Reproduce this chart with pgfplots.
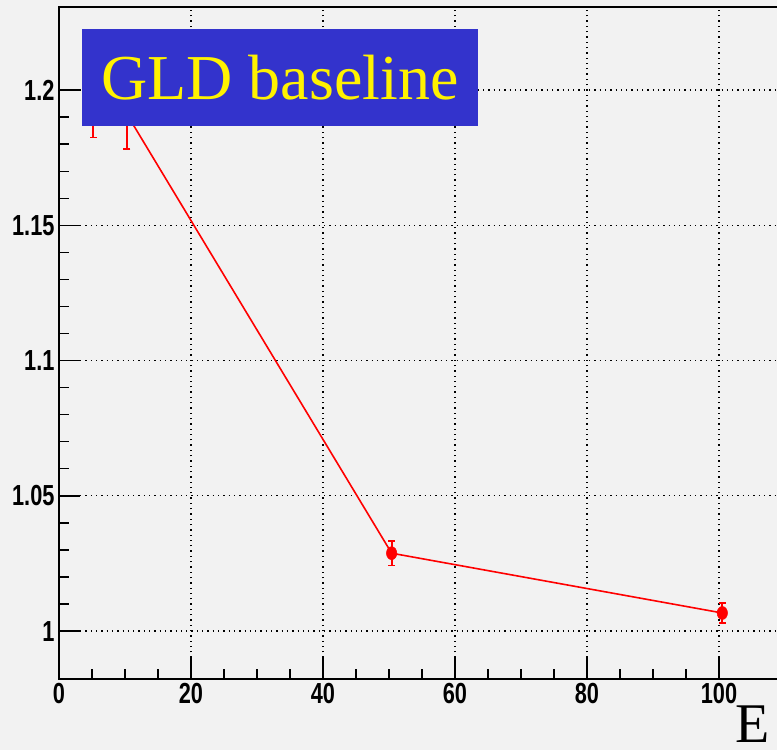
\documentclass[border=0pt]{standalone}
\usepackage{pgfplots}
\pgfplotsset{compat=1.18}
\usepackage{fontspec}
\setmainfont{Liberation Serif}
\newfontfamily\tickfont[FakeStretch=0.75]{Liberation Sans}
\definecolor{rootbg}{RGB}{242,242,242}
\definecolor{boxblue}{RGB}{51,51,204}
\definecolor{rootred}{RGB}{255,0,0}
\begin{document}
\begin{tikzpicture}
\path[use as bounding box, clip] (0,0) rectangle (777pt,750pt);
\fill[rootbg] (0,0) rectangle (777pt,750pt);
\begin{axis}[
    at={(59pt,71pt)}, anchor=south west,
    scale only axis,
    width=726pt, height=672pt,
    xmin=0, xmax=110,
    ymin=0.9823, ymax=1.2307,
    xtick={0,20,40,60,80,100},
    ytick={1,1.05,1.1,1.15,1.2},
    yticklabels={1,1.05,1.1,1.15,1.2},
    minor x tick num=3,
    minor y tick num=4,
    xtick pos=left, ytick pos=left,
    tick align=inside,
    major tick length=21pt,
    minor tick length=10pt,
    tick style={black, line width=1.4pt},
    axis line style={black, line width=2pt},
    grid=major,
    major grid style={black, line width=1.3pt, dash pattern=on 1.3pt off 4pt},
    axis background/.style={fill=rootbg},
    /pgf/number format/assume math mode=true,
    tick label style={font=\tickfont\bfseries\fontsize{29}{29}\selectfont},
    xticklabel style={yshift=-1pt},
    yticklabel style={xshift=-1pt},
    clip=false,
]
% error bars first, drawn on their own
\addplot[draw=none, mark=none, forget plot,
    error bars/.cd, y dir=both, y explicit,
    error bar style={solid, draw=rootred, line width=1.8pt},
    error mark options={solid, draw=rootred, mark size=3.5pt, line width=1.6pt, rotate=90}]
  table[x=x, y=y, y error=e] {
    x      y       e
    5.2    1.1910  0.0085
    10.3   1.1910  0.0128
    50.4   1.0288  0.0046
    100.5  1.0067  0.0038
  };
\addplot[rootred, line width=1.6pt, mark=*,
    mark options={fill=rootred, draw=rootred, xscale=0.8, line width=0.5pt},
    mark size=6.5pt]
  table[x=x, y=y] {
    x      y
    5.2    1.1910
    10.3   1.1910
    50.4   1.0288
    100.5  1.0067
  };
\end{axis}
\node[fill=boxblue, minimum width=396pt, minimum height=97pt, inner sep=0pt,
      text=yellow, font=\fontsize{64}{64}\selectfont] at (280pt,672.5pt) {GLD baseline};
\node[font=\fontsize{56}{56}\selectfont, anchor=base, inner sep=0pt] at (753pt,7pt) {E};
\end{tikzpicture}
\end{document}
